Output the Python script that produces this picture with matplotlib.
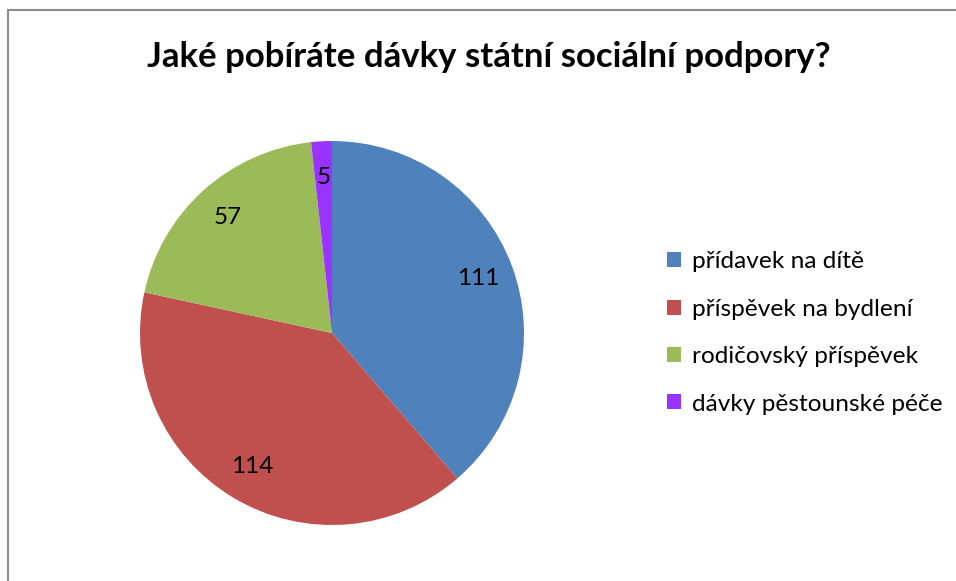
import matplotlib
matplotlib.use("Agg")
import matplotlib.pyplot as plt
from matplotlib.lines import Line2D
from matplotlib.patches import Patch

categories = ["přídavek na dítě", "příspěvek na bydlení", "rodičovský příspěvek", "dávky pěstounské péče"]
values = [111, 114, 57, 5]
colors = ["#4F81BD", "#C0504D", "#9BBB59", "#9933FF"]
title = "Jaké pobíráte dávky státní sociální podpory?"

W, H = 956, 581
fig = plt.figure(figsize=(W / 100, H / 100), dpi=100)
plt.rcParams['font.family'] = ['Lato', 'DejaVu Sans']

# chart border
fig.add_artist(Line2D([8 / W, 8 / W], [0, 1 - 10 / H], color="#8c8c8c", lw=1.5))
fig.add_artist(Line2D([8 / W, 1], [1 - 10 / H, 1 - 10 / H], color="#8c8c8c", lw=1.5))

fig.text(489 / W, 1 - 57 / H, title, ha="center", va="center", fontsize=25, fontweight="bold")

cx, cy, r = 332, 333, 192
ax = fig.add_axes([(cx - r) / W, 1 - (cy + r) / H, 2 * r / W, 2 * r / H])
total = sum(values)
wedges, texts, autotexts = ax.pie(values, colors=colors, startangle=90, counterclock=False,
                                  autopct=lambda p: f"{round(p * total / 100)}", pctdistance=0.81,
                                  wedgeprops=dict(linewidth=0))
for t in autotexts:
    t.set_fontsize(17.5)
ax.set_xlim(-1, 1)
ax.set_ylim(-1, 1)
ax.set_aspect("equal")

handles = [Patch(facecolor=c, edgecolor="none") for c in colors]
fig.legend(handles, categories, loc="center left", bbox_to_anchor=(667 / W, 1 - 333 / H),
           frameon=False, fontsize=17.6, handlelength=0.57, handleheight=0.57,
           handletextpad=0.45, labelspacing=1.08, borderaxespad=0, borderpad=0)

fig.savefig("out.png", dpi=100)
